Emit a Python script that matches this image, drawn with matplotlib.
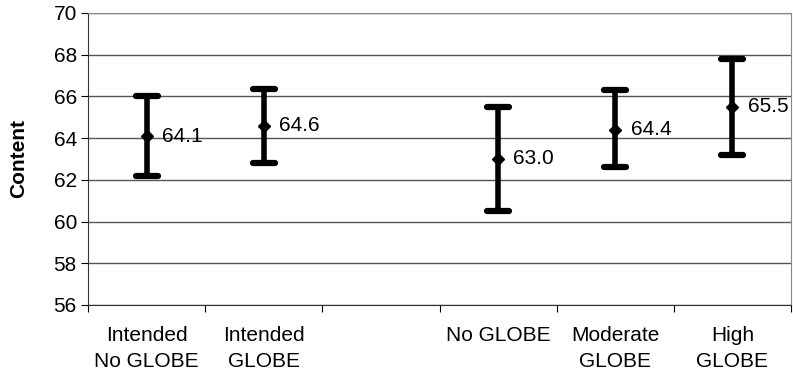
import matplotlib
matplotlib.use("Agg")
from matplotlib import pyplot as plt
from matplotlib.markers import MarkerStyle
import numpy as np

# chart data (blank slot separates the two groups)
categories = ["Intended\nNo GLOBE", "Intended\nGLOBE", "", "No GLOBE", "Moderate\nGLOBE", "High\nGLOBE"]
means = [64.1, 64.6, np.nan, 63.0, 64.4, 65.5]
lower = [62.2, 62.8, np.nan, 60.5, 62.6, 63.2]
upper = [66.0, 66.35, np.nan, 65.5, 66.3, 67.8]
y_ticks = [56, 58, 60, 62, 64, 66, 68, 70]

plt.rcParams['font.family'] = ['Liberation Sans', 'DejaVu Sans']
fs = 15

fig = plt.figure(figsize=(7.93, 3.79), dpi=100)
ax = fig.add_axes([88 / 793, 1 - 305 / 379, (791 - 88) / 793, (305 - 13) / 379])

x = np.arange(len(categories)) + 0.5
means = np.array(means)
err = np.array([means - np.array(lower), np.array(upper) - means])
ok = ~np.isnan(means)

_, caps, bars = ax.errorbar(x[ok], means[ok], yerr=err[:, ok], fmt='D', color='black',
                            markersize=6, elinewidth=4, capsize=8, capthick=4.5,
                            ecolor='black', zorder=3)
for cap in caps:
    cap.set_marker(MarkerStyle('_', capstyle='round'))

for xi, m in zip(x[ok], means[ok]):
    ax.annotate(f"{m:.1f}", (xi, m), xytext=(11, 0), textcoords='offset points',
                va='center', ha='left', fontsize=fs)

# axes styling
ax.set_xlim(0, len(categories))
ax.set_ylim(56, 70)
ax.set_yticks(y_ticks)
ax.tick_params(axis='y', labelsize=fs, length=5, direction='out', pad=3)
ax.yaxis.grid(True, color='#555555', linewidth=1)
ax.set_axisbelow(True)

ax.set_xticks(np.arange(len(categories) + 1))
ax.set_xticklabels([])
ax.set_xticks(x, minor=True)
ax.set_xticklabels(categories, minor=True, fontsize=fs, linespacing=1.45)
ax.tick_params(axis='x', which='major', length=5, direction='out')
ax.tick_params(axis='x', which='minor', length=0, pad=15)

for side in ['top', 'right']:
    ax.spines[side].set_color('#888888')
ax.spines['left'].set_color('#333333')
ax.spines['bottom'].set_color('#333333')

ax.set_ylabel('Content', fontsize=fs, fontweight='bold', labelpad=18)

plt.savefig('out.png', dpi=100)
plt.close()
